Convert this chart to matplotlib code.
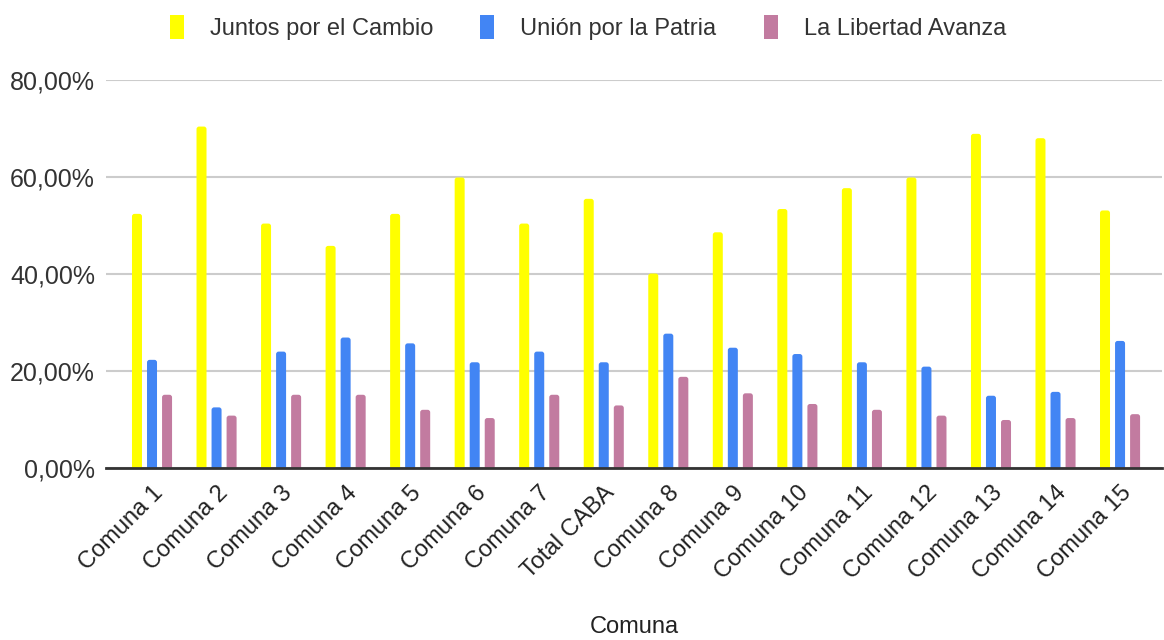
import numpy as np
import matplotlib.pyplot as plt
from matplotlib.patches import Patch, FancyBboxPatch
from matplotlib.ticker import FuncFormatter

plt.rcParams['font.family'] = ['Liberation Sans', 'DejaVu Sans']

comunas = ['Comuna 1', 'Comuna 2', 'Comuna 3', 'Comuna 4', 'Comuna 5', 'Comuna 6',
           'Comuna 7', 'Total CABA', 'Comuna 8', 'Comuna 9', 'Comuna 10', 'Comuna 11',
           'Comuna 12', 'Comuna 13', 'Comuna 14', 'Comuna 15']
juntos = [52.4, 70.4, 50.4, 45.8, 52.4, 59.9, 50.4, 55.5, 40.1, 48.6, 53.4, 57.7,
          59.9, 68.9, 68.0, 53.1]
union = [22.3, 12.5, 24.0, 26.9, 25.7, 21.8, 24.0, 21.8, 27.7, 24.8, 23.5, 21.8,
         20.9, 14.9, 15.7, 26.2]
libertad = [15.1, 10.8, 15.1, 15.1, 12.0, 10.3, 15.1, 12.9, 18.8, 15.4, 13.2, 12.0,
            10.8, 9.9, 10.3, 11.1]

series = [('Juntos por el Cambio', juntos, '#FFFF00'),
          ('Unión por la Patria', union, '#4285F4'),
          ('La Libertad Avanza', libertad, '#C27BA0')]

fig = plt.figure(figsize=(11.64, 6.4), dpi=100)
ax = fig.add_axes([106 / 1164, 172 / 640, 1056 / 1164, 388 / 640])

x = np.arange(len(comunas))
width = 0.155
offset = 0.233
ax.set_xlim(-0.713, 15.65)
ax.set_ylim(0, 80)

# data-unit ratio so the rounded bar tops stay circular
aspect = (1056 / (15.65 + 0.713)) / (388 / 80)
for i, (name, vals, color) in enumerate(series):
    bars = ax.bar(x + (i - 1) * offset, vals, width, color=color, label=name, zorder=3)
    for b in bars:
        b.set_visible(False)
        rb = FancyBboxPatch((b.get_x(), -2), b.get_width(), b.get_height() + 2,
                            boxstyle='round,pad=0,rounding_size=0.04',
                            mutation_aspect=aspect, facecolor=color,
                            edgecolor='none', zorder=3)
        ax.add_patch(rb)

ax.set_yticks([0, 20, 40, 60, 80])
ax.yaxis.set_major_formatter(FuncFormatter(lambda v, p: f'{v:.2f}'.replace('.', ',') + '%'))
ax.grid(axis='y', color='#cccccc', linewidth=1.5, zorder=0)
ax.tick_params(axis='y', length=0, pad=8, labelsize=18, labelcolor='#333333')

ax.set_xticks(x)
ax.set_xticklabels(comunas, rotation=45, ha='right', rotation_mode='anchor',
                   fontsize=17, color='#222222')
ax.tick_params(axis='x', length=0, pad=10)

for s in ['top', 'right', 'left']:
    ax.spines[s].set_visible(False)
ax.spines['bottom'].set_color('#333333')
ax.spines['bottom'].set_linewidth(2)
ax.spines['bottom'].set_zorder(4)

ax.set_xlabel('Comuna', fontsize=17, color='#222222', labelpad=23)

handles = [Patch(facecolor=c, label=n) for n, v, c in series]
fig.legend(handles=handles, loc='upper center', bbox_to_anchor=(0.505, 1.01), ncol=3,
           frameon=False, fontsize=17, handlelength=0.6, handleheight=1.2,
           handletextpad=1.1, columnspacing=2.0, labelcolor='#333333')

fig.savefig('out.png', dpi=100, facecolor='white')
